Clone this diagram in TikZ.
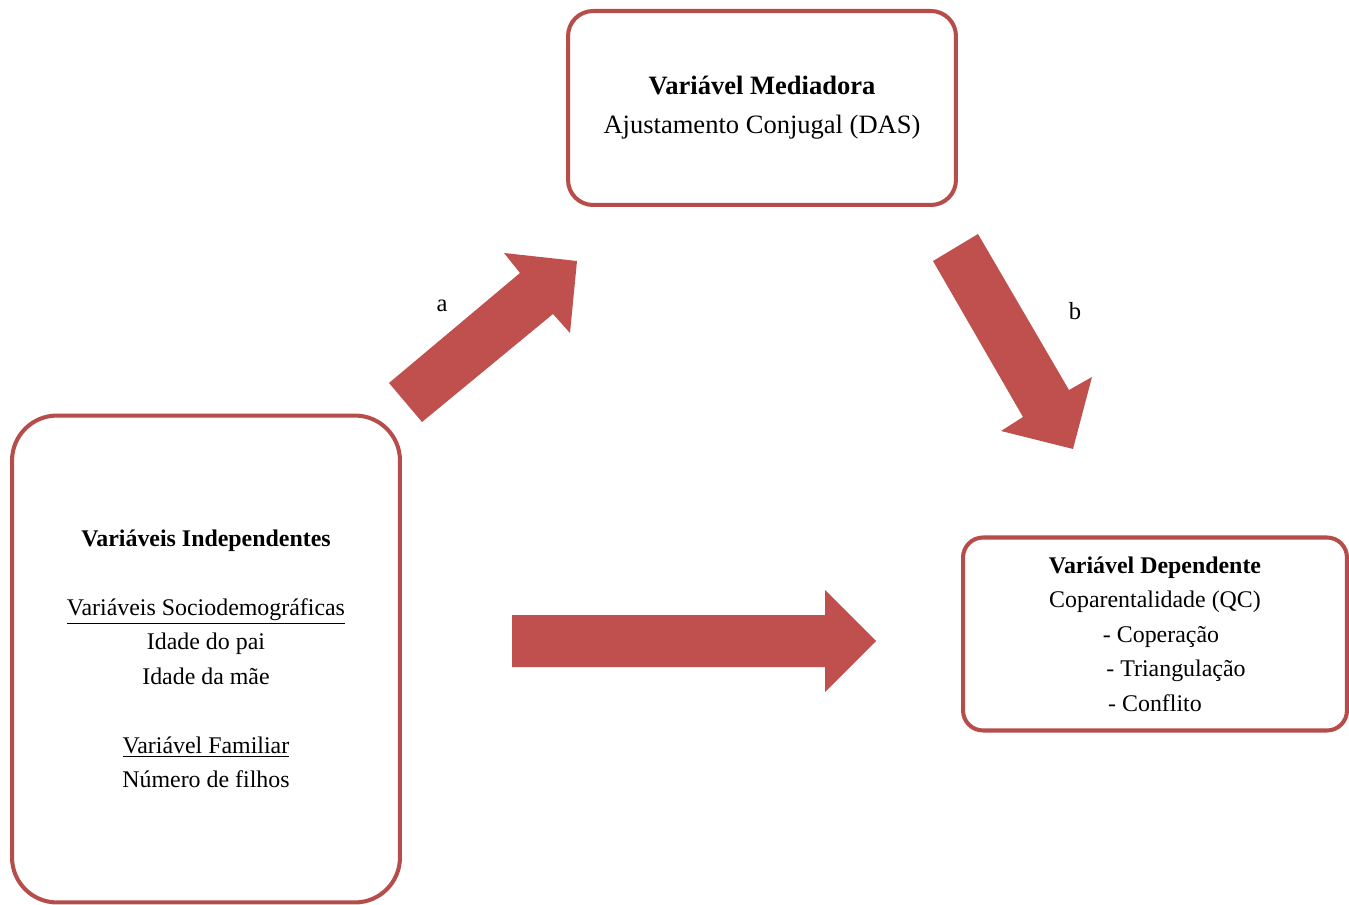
\documentclass[tikz,border=0pt]{standalone}
\usepackage{fontspec}
\setmainfont{Liberation Serif}
\usepackage{tikz}
\usetikzlibrary{positioning}
\definecolor{accred}{HTML}{C0504D}
\definecolor{boxred}{HTML}{B64D4A}

\begin{document}
\begin{tikzpicture}[
  x=0.02cm, y=-0.02cm,
  box/.style={draw=boxred, line width=2.3pt, fill=white, align=center, inner sep=0pt},
  txt/.style={font=\fontsize{13.6}{19.6}\selectfont},
  big/.style={font=\fontsize{15.1}{22.2}\selectfont},
  blk/.style={fill=accred},
  lab/.style={font=\fontsize{14}{16}\selectfont}
]
\useasboundingbox (0,0) rectangle (1349,905);

\node[box, big, rounded corners=0.5cm, minimum width=7.76cm, minimum height=3.88cm] (med) at (762,108)
  {\textbf{Variável Mediadora}\\Ajustamento Conjugal (DAS)};
\node[box, txt, rounded corners=0.9cm, minimum width=7.76cm, minimum height=9.74cm] (ind) at (206,659)
  {\textbf{Variáveis Independentes}\\[19.6pt]\underline{Variáveis Sociodemográficas}\\Idade do pai\\Idade da mãe\\[19.6pt]\underline{Variável Familiar}\\Número de filhos};
\node[box, txt, rounded corners=0.4cm, minimum width=7.68cm, minimum height=3.86cm] (dep) at (1155,634)
  {\textbf{Variável Dependente}\\Coparentalidade (QC)\\\hspace*{0.24cm}- Coperação\\\hspace*{0.84cm}- Triangulação\\- Conflito};

\fill[blk] (389,383) -- (520,273) -- (504,253) -- (577,261) -- (570,333) -- (553,314) -- (422,422) -- cycle;
\fill[blk] (933,261) -- (978,234) -- (1069,390) -- (1092,377) -- (1073,449) -- (1001,431) -- (1023,417) -- cycle;
\fill[blk] (512,615) -- (825,615) -- (825,590) -- (876,641) -- (825,692) -- (825,667) -- (512,667) -- cycle;

\node[lab] (la) at (442,306) {a};
\node[lab] (lb) at (1075,311) {b};
\end{tikzpicture}
\end{document}
